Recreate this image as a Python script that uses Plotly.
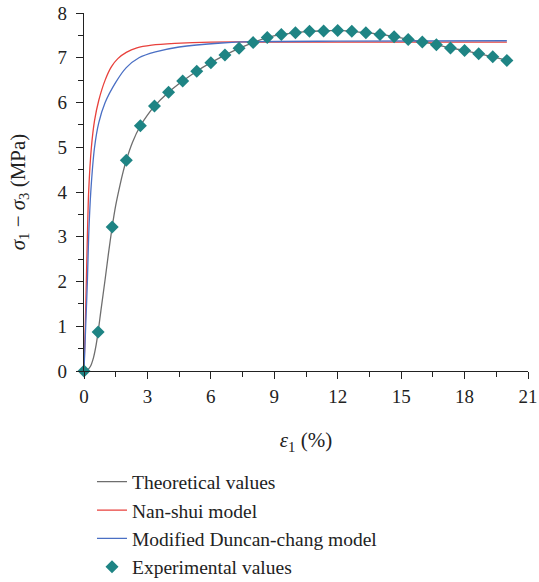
import plotly.graph_objects as go

# Experimental values
exp_strain = [0, 0.667, 1.333, 2.0, 2.667, 3.333, 4.0, 4.667, 5.333, 6.0, 6.667, 7.333,
              8.0, 8.667, 9.333, 10.0, 10.667, 11.333, 12.0, 12.667, 13.333, 14.0,
              14.667, 15.333, 16.0, 16.667, 17.333, 18.0, 18.667, 19.333, 20.0]
exp_stress = [0, 0.87, 3.22, 4.71, 5.48, 5.92, 6.23, 6.48, 6.70, 6.89, 7.06, 7.21,
              7.34, 7.45, 7.52, 7.56, 7.59, 7.60, 7.61, 7.59, 7.56, 7.52,
              7.47, 7.41, 7.35, 7.29, 7.22, 7.16, 7.09, 7.02, 6.94]

# Theoretical values
theo_strain = [0, 0.15, 0.3, 0.45, 0.55, 0.667, 0.8, 1.0, 1.15, 1.333, 1.5, 1.7, 1.85,
               2.0, 2.3, 2.667, 3.0, 3.333, 4.0, 4.667, 5.333, 6.0, 6.667, 7.333, 8.0,
               8.667, 9.333, 10.0, 10.667, 11.333, 12.0, 12.667, 13.333, 14.0, 14.667,
               15.333, 16.0, 16.667, 17.333, 18.0, 18.667, 19.333, 20.0]
theo_stress = [0, 0.02, 0.1, 0.3, 0.52, 0.87, 1.35, 2.05, 2.6, 3.22, 3.7, 4.15, 4.45,
               4.71, 5.12, 5.48, 5.72, 5.92, 6.23, 6.48, 6.70, 6.89, 7.06, 7.21, 7.34,
               7.45, 7.52, 7.56, 7.59, 7.60, 7.61, 7.59, 7.56, 7.52, 7.47,
               7.41, 7.35, 7.29, 7.22, 7.16, 7.09, 7.02, 6.94]

# Nan-shui model
ns_strain = [0, 0.06, 0.11, 0.16, 0.22, 0.35, 0.5, 0.7, 1.0, 1.3, 1.6, 2.0, 2.5, 3.2,
             4.3, 6.0, 10.0, 20.0]
ns_stress = [0, 1.0, 2.0, 3.0, 4.0, 5.0, 5.6, 6.05, 6.5, 6.8, 6.98, 7.12, 7.22, 7.28,
             7.32, 7.35, 7.35, 7.35]

# Modified Duncan-chang model
dc_strain = [0, 0.08, 0.16, 0.22, 0.32, 0.5, 0.7, 1.0, 1.5, 2.0, 2.6, 3.38, 4.5,
             6.5, 8.0, 12.0, 20.0]
dc_stress = [0, 1.0, 2.0, 3.0, 4.0, 5.0, 5.55, 6.0, 6.45, 6.78, 7.0, 7.13, 7.24,
             7.33, 7.36, 7.37, 7.38]

x_ticks = [0, 3, 6, 9, 12, 15, 18, 21]
y_ticks = [0, 1, 2, 3, 4, 5, 6, 7, 8]

FONT = "Liberation Serif"

fig = go.Figure()
fig.add_trace(go.Scatter(x=theo_strain, y=theo_stress, mode="lines",
                         name="Theoretical values",
                         line=dict(color="#6e6e6e", width=1.3, shape="spline", smoothing=0.8)))
fig.add_trace(go.Scatter(x=ns_strain, y=ns_stress, mode="lines",
                         name="Nan-shui model",
                         line=dict(color="#e8413c", width=1.3, shape="spline", smoothing=0.7)))
fig.add_trace(go.Scatter(x=dc_strain, y=dc_stress, mode="lines",
                         name="Modified Duncan-chang model",
                         line=dict(color="#4a6fc4", width=1.3, shape="spline", smoothing=0.7)))
fig.add_trace(go.Scatter(x=exp_strain, y=exp_stress, mode="markers",
                         name="Experimental values", cliponaxis=False,
                         marker=dict(symbol="diamond", size=10, color="#1e8484")))

fig.update_layout(
    width=539, height=582,
    margin=dict(l=84, r=11, t=13, b=211, autoexpand=False),
    paper_bgcolor="white", plot_bgcolor="white",
    font=dict(family=FONT, size=19, color="#222222"),
    showlegend=True,
    legend=dict(orientation="v", x=0.018, xanchor="left", y=-0.2556, yanchor="top",
                font=dict(family=FONT, size=19.5, color="#222222"),
                bgcolor="rgba(0,0,0,0)", tracegroupgap=0, itemwidth=30),
)
fig.update_xaxes(range=[0, 21], tickvals=x_ticks, ticks="outside", ticklen=7,
                 tickwidth=1.2, tickcolor="#222", showline=True, linecolor="#222",
                 linewidth=1.2, showgrid=False, zeroline=False, ticklabelstandoff=1,
                 minor=dict(dtick=1.5, tick0=0, ticks="outside", ticklen=5,
                            tickcolor="#222", tickwidth=1.2, showgrid=False),
                 title=dict(text="<i>ε</i><sub>1</sub> (%)", standoff=26,
                            font=dict(family=FONT, size=21)))
fig.update_yaxes(range=[0, 8], tickvals=y_ticks, ticks="outside", ticklen=7,
                 tickwidth=1.2, tickcolor="#222", showline=True, linecolor="#222",
                 linewidth=1.2, showgrid=False, zeroline=False, ticklabelstandoff=5,
                 minor=dict(dtick=0.5, tick0=0, ticks="outside", ticklen=5,
                            tickcolor="#222", tickwidth=1.2, showgrid=False),
                 title=dict(text="<i>σ</i><sub>1</sub> − <i>σ</i><sub>3</sub> (MPa)",
                            standoff=26, font=dict(family=FONT, size=21)))

fig.write_html("out.html")
